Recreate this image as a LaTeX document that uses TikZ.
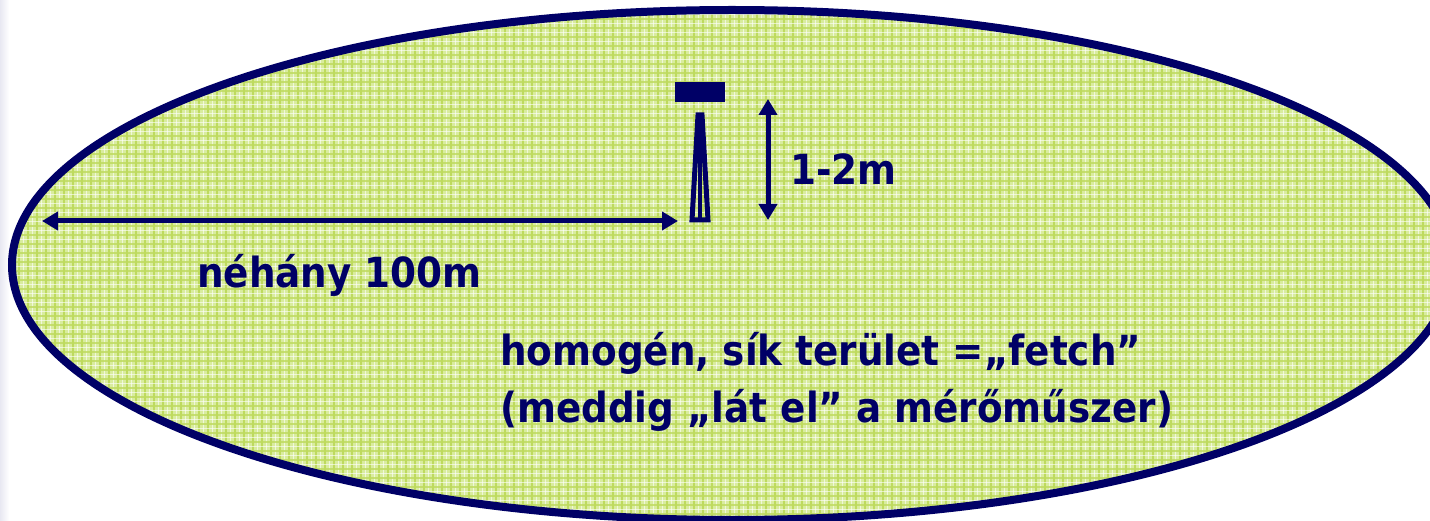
\documentclass[tikz,border=0pt]{standalone}
\usepackage{fontspec}
\setmainfont{DejaVu Sans Condensed}
\usetikzlibrary{arrows.meta}
\definecolor{navy}{HTML}{000066}
\definecolor{fieldbase}{HTML}{D9EC9E}
\definecolor{fieldline}{HTML}{BEDA5E}
\tikzset{
  dimarrow/.style={draw=navy, line width=5pt, {Triangle[length=16pt,width=18pt]}-{Triangle[length=16pt,width=18pt]}},
  lbl/.style={text=navy, font=\bfseries\fontsize{41.5}{48}\selectfont, inner sep=0pt, anchor=base west},
}
\begin{document}
\begin{tikzpicture}[x=1pt,y=-1pt]
\useasboundingbox (0,0) rectangle (1430,521);
\fill[white] (0,0) rectangle (1430,521);
\shade[left color={rgb,255:red,232;green,232;blue,242}, right color=white] (0,0) rectangle (9,521);
% field
\begin{scope}
\clip (732,265) ellipse [x radius=720, y radius=255];
\fill[fieldbase] (0,0) rectangle (1460,530);
\foreach \i in {0,9,...,1460} {
  \fill[fieldline] (\i,0) rectangle (\i+2,530);
  \fill[white,opacity=0.6] (\i+5,0) rectangle (\i+6,530);
}
\foreach \j in {0,9,...,530} {
  \fill[fieldline,opacity=0.8] (0,\j) rectangle (1460,\j+2);
  \fill[white,opacity=0.6] (0,\j+5) rectangle (1460,\j+6);
}
\end{scope}
\draw[navy, line width=8pt] (732,265) ellipse [x radius=720, y radius=255];
% tower
\fill[navy] (675,82) rectangle (725,102);
\draw[navy, line width=5pt, line join=miter] (698,115) -- (702,115) -- (708,220) -- (692,220) -- cycle;
\draw[navy, line width=4pt] (700,115) -- (700,220);
% arrows
\coordinate (hl) at (42,221);
\coordinate (hr) at (678,221);
\coordinate (vt) at (768,99);
\coordinate (vb) at (768,220);
\draw[dimarrow] (hl) -- (hr);
\draw[dimarrow] (vt) -- (vb);
% labels
\node[lbl] (h) at (790,185) {1-2m};
\node[lbl] (d) at (197,288) {néhány 100m};
\node[lbl] (f1) at (500,366) {homogén, sík terület =„fetch”};
\node[lbl] (f2) at (500,422) {(meddig „lát el” a mérőműszer)};
\end{tikzpicture}
\end{document}
